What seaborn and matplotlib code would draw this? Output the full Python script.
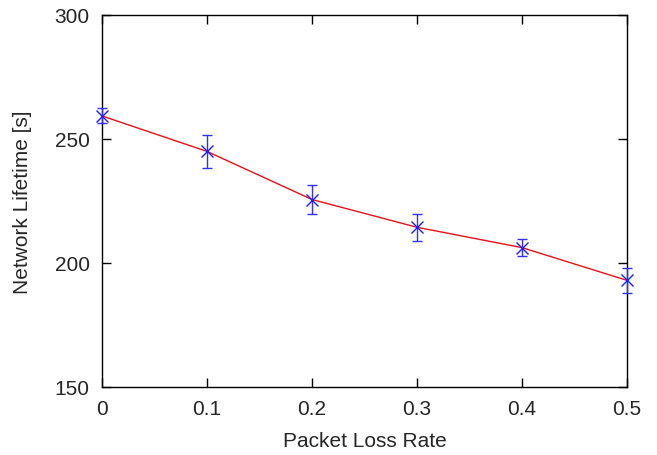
import matplotlib
matplotlib.use("Agg")
import matplotlib.pyplot as plt
import seaborn as sns
import pandas as pd

loss_rate = [0.0, 0.1, 0.2, 0.3, 0.4, 0.5]
lifetime = [259.3, 245.0, 225.6, 214.4, 206.2, 193.0]
err = [3.0, 6.5, 6.0, 5.5, 3.5, 5.0]
x_ticks = [0, 0.1, 0.2, 0.3, 0.4, 0.5]
x_tick_labels = ["0", "0.1", "0.2", "0.3", "0.4", "0.5"]
y_ticks = [150, 200, 250, 300]

sns.set_theme(style="white")
plt.rcParams['font.family'] = ['Liberation Sans', 'DejaVu Sans']

df = pd.DataFrame({"rate": loss_rate, "life": lifetime, "err": err})

fig = plt.figure(figsize=(6.57, 4.56), dpi=100)
ax = fig.add_axes([102/657, 68/456, 525/657, 372/456])

sns.lineplot(data=df, x="rate", y="life", ax=ax, color="#e8101a", linewidth=1.0)
eb = ax.errorbar(df["rate"], df["life"], yerr=df["err"], fmt="none", ecolor="#3030ff",
                 elinewidth=1.0, capsize=3.5, capthick=1.0, zorder=3)
for art in eb.lines[1] + eb.lines[2]:
    art.set_clip_on(False)
ax.plot(df["rate"], df["life"], linestyle="none", marker="x", markersize=8,
        color="#2020ff", markeredgewidth=1.0, zorder=4, clip_on=False)

ax.set_xlim(0, 0.5)
ax.set_ylim(150, 300)
ax.set_xticks(x_ticks)
ax.set_xticklabels(x_tick_labels)
ax.set_yticks(y_ticks)
ax.set_xlabel("Packet Loss Rate", fontsize=15, labelpad=9)
ax.set_ylabel("Network Lifetime [s]", fontsize=15, labelpad=16)
ax.tick_params(direction="in", length=6.5, width=1.0, labelsize=15, color="black",
               top=True, right=True, bottom=True, left=True, pad=9)
for s in ax.spines.values():
    s.set_color("black")
    s.set_linewidth(1.0)
ax.grid(False)

fig.savefig("out.png", dpi=100)
